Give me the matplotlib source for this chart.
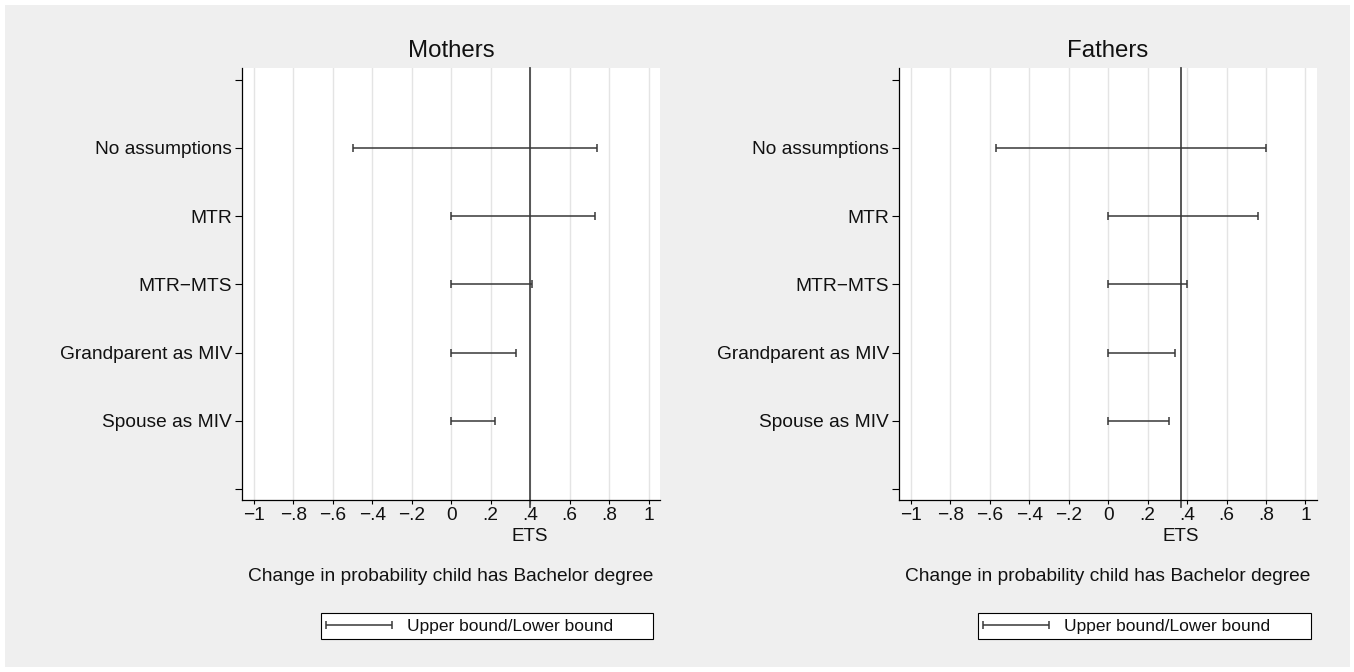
import matplotlib
matplotlib.use('Agg')
import matplotlib.pyplot as plt
import matplotlib.transforms as mtransforms
from matplotlib.patches import Rectangle
from matplotlib.container import ErrorbarContainer
from matplotlib.legend_handler import HandlerErrorbar
import numpy as np

plt.rcParams['font.family'] = ['Liberation Sans', 'DejaVu Sans']

# ---------------- data ----------------
methods = ['No assumptions', 'MTR', 'MTR\u2212MTS', 'Grandparent as MIV', 'Spouse as MIV']
positions = [5, 4, 3, 2, 1]

mothers_lower = [-0.50, 0.0, 0.0, 0.0, 0.0]
mothers_upper = [0.74, 0.73, 0.41, 0.33, 0.22]
mothers_ets = 0.40

fathers_lower = [-0.57, 0.0, 0.0, 0.0, 0.0]
fathers_upper = [0.80, 0.76, 0.40, 0.34, 0.31]
fathers_ets = 0.37

xticks = [-1.0, -0.8, -0.6, -0.4, -0.2, 0.0, 0.2, 0.4, 0.6, 0.8, 1.0]
xticklabels = ['\u22121', '\u2212.8', '\u2212.6', '\u2212.4', '\u2212.2', '0', '.2', '.4', '.6', '.8', '1']
yticks = [0, 1, 2, 3, 4, 5, 6]

titles = ['Mothers', 'Fathers']
xlabel = 'Change in probability child has Bachelor degree'
ets_label = 'ETS'
legend_label = 'Upper bound/Lower bound'

# ---------------- figure ----------------
W, H = 1354, 672
fig = plt.figure(figsize=(W / 100, H / 100), dpi=100)
fig.patch.set_facecolor('white')
fig.patches.append(Rectangle((5 / W, 5 / H), 1345 / W, 662 / H, transform=fig.transFigure,
                             facecolor='#efefef', edgecolor='none', zorder=-10))

axes_px = [(242.3, 417.7), (899.3, 417.4)]
legend_px = [(320.7, 332.6), (978.0, 332.6)]

panels = [(mothers_lower, mothers_upper, mothers_ets), (fathers_lower, fathers_upper, fathers_ets)]

TXT = '#111111'
for i, ((lower, upper, ets), title) in enumerate(zip(panels, titles)):
    left, width = axes_px[i]
    ax = fig.add_axes([left / W, 172 / H, width / W, 432 / H])
    ax.set_facecolor('white')
    ax.set_xlim(-1.058, 1.057)
    ax.set_ylim(-0.16, 6.17)

    for t in xticks:
        ax.axvline(t, color='#e4e4e4', lw=1.0, zorder=0)

    lo = np.array(lower)
    hi = np.array(upper)
    eb = ax.errorbar((lo + hi) / 2, positions, xerr=(hi - lo) / 2, fmt='none',
                     ecolor='#383838', elinewidth=1.1, capsize=2.9, capthick=1.1,
                     zorder=3, label=legend_label)

    trans = mtransforms.blended_transform_factory(ax.transData, ax.transAxes)
    ax.plot([ets, ets], [-7 / 432, 1], transform=trans, clip_on=False,
            color='#4a4a4a', lw=1.3, zorder=2)
    ax.annotate(ets_label, xy=(ets, 0), xycoords=trans, xytext=(0, -41),
                textcoords='offset pixels', ha='center', va='baseline',
                fontsize=13.6, color=TXT, annotation_clip=False)

    ax.set_xticks(xticks)
    ax.set_xticklabels(xticklabels)
    ylabels = [''] * len(yticks)
    for m, p in zip(methods, positions):
        ylabels[yticks.index(p)] = m
    ax.set_yticks(yticks)
    ax.set_yticklabels(ylabels)

    ax.tick_params(axis='x', length=3, width=0.8, pad=2.2, labelsize=13.8,
                   color='black', labelcolor=TXT)
    ax.tick_params(axis='y', length=5, width=0.8, pad=2.5, labelsize=13.8,
                   color='black', labelcolor=TXT)

    for s in ['top', 'right']:
        ax.spines[s].set_visible(False)
    for s in ['left', 'bottom']:
        ax.spines[s].set_color('black')
        ax.spines[s].set_linewidth(0.9)

    ax.set_title(title, fontsize=17.3, pad=8, color=TXT)

    ax.annotate(xlabel, xy=(0.5, 0), xycoords='axes fraction', xytext=(0, -81),
                textcoords='offset pixels', ha='center', va='baseline',
                fontsize=13.8, color=TXT, annotation_clip=False)

    lx, lw_ = legend_px[i]
    leg = ax.legend(handles=[eb], labels=[legend_label], loc='center',
                    bbox_to_anchor=(lx / W, 32.7 / H, lw_ / W, 26.6 / H),
                    bbox_transform=fig.transFigure, mode='expand', borderaxespad=0,
                    fancybox=False, edgecolor='black', framealpha=1, facecolor='white',
                    fontsize=12.5, handlelength=3.8, handletextpad=0.86, borderpad=0.3,
                    handler_map={ErrorbarContainer: HandlerErrorbar(xerr_size=1.9)})
    leg.get_frame().set_linewidth(0.8)
    for t in leg.get_texts():
        t.set_color(TXT)

fig.savefig('out.png', dpi=100)
